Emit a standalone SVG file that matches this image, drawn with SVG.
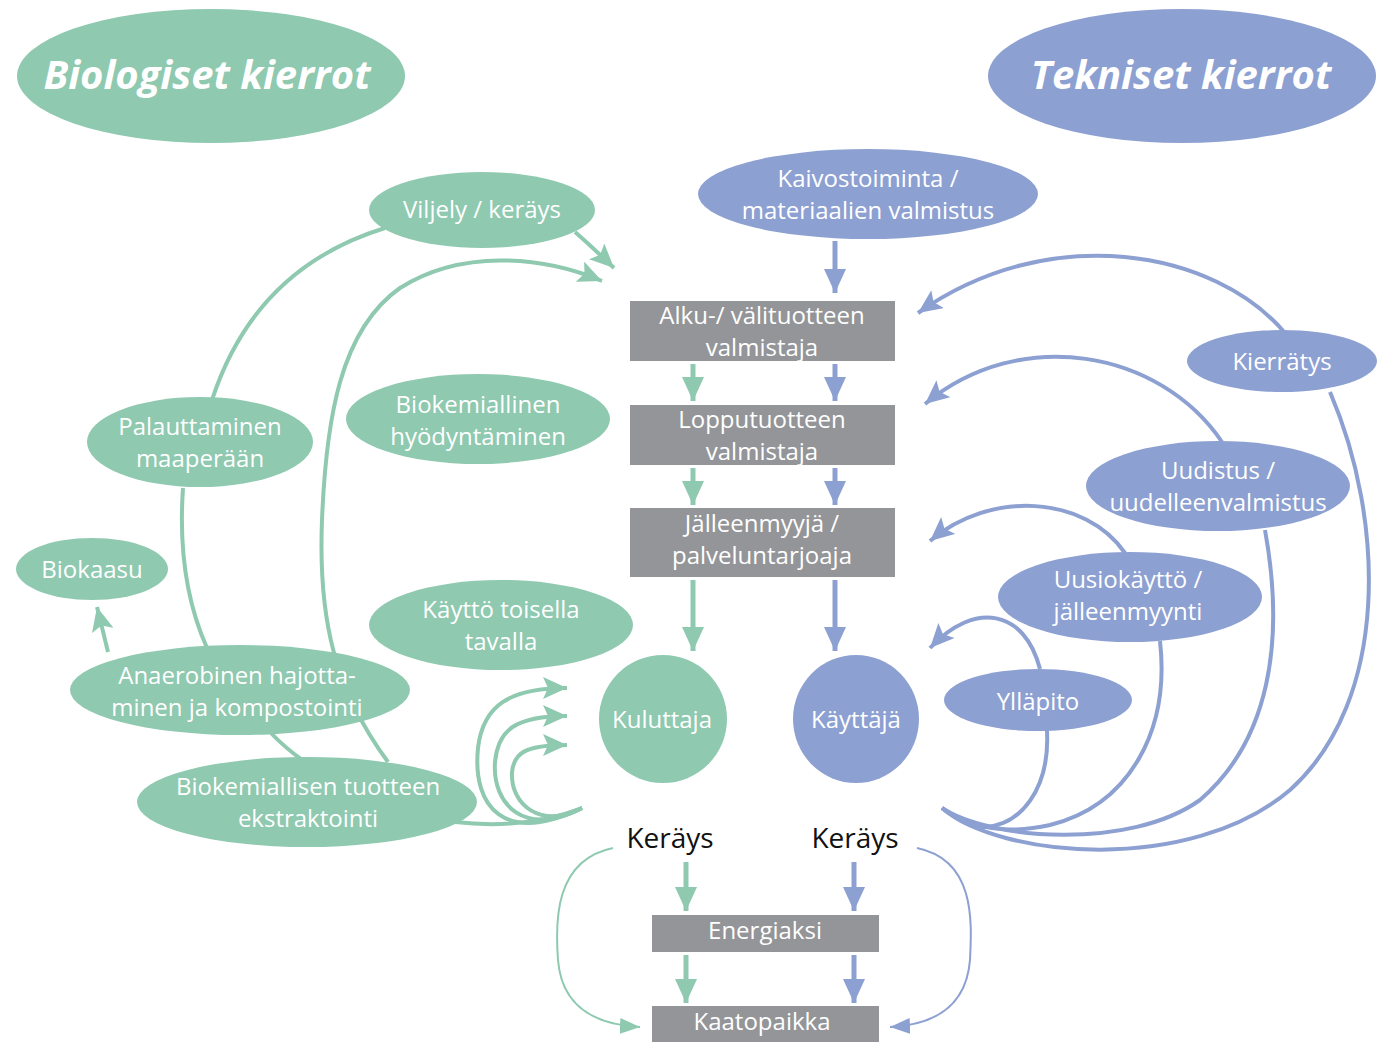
<svg xmlns="http://www.w3.org/2000/svg" width="1382" height="1042" viewBox="0 0 1382 1042">
<style>
.g{fill:#8ec9b0}
.b{fill:#8da0d2}
.box{fill:#939598}
.t{font-family:"Open Sans","Noto Sans",sans-serif;font-size:24px;fill:#fff;text-anchor:middle}
.k{font-family:"Open Sans","Noto Sans",sans-serif;font-size:28px;fill:#111;text-anchor:middle}
.title{font-family:"Open Sans","Noto Sans",sans-serif;font-size:40px;font-weight:bold;font-style:italic;fill:#fff;text-anchor:middle}
.cg{fill:none;stroke:#8ec9b0;stroke-width:4}
.cb{fill:none;stroke:#8da0d2;stroke-width:4}
.cgt{fill:none;stroke:#8ec9b0;stroke-width:2}
.cbt{fill:none;stroke:#8da0d2;stroke-width:2}
.sg{fill:none;stroke:#8ec9b0;stroke-width:5}
.sb{fill:none;stroke:#8da0d2;stroke-width:5}
</style>
<defs>
<marker id="ag" markerUnits="userSpaceOnUse" markerWidth="26" markerHeight="22" refX="24" refY="11" orient="auto"><path d="M0,0 L24,11 L0,22 L5,11 z" fill="#8ec9b0"/></marker>
<marker id="ab" markerUnits="userSpaceOnUse" markerWidth="26" markerHeight="22" refX="24" refY="11" orient="auto"><path d="M0,0 L24,11 L0,22 L5,11 z" fill="#8da0d2"/></marker>
<marker id="dg" markerUnits="userSpaceOnUse" markerWidth="26" markerHeight="22" refX="24" refY="11" orient="auto"><path d="M0,0 L24,11 L0,22 z" fill="#8ec9b0"/></marker>
<marker id="db" markerUnits="userSpaceOnUse" markerWidth="26" markerHeight="22" refX="24" refY="11" orient="auto"><path d="M0,0 L24,11 L0,22 z" fill="#8da0d2"/></marker>
<marker id="sg" markerUnits="userSpaceOnUse" markerWidth="22" markerHeight="16" refX="20" refY="8" orient="auto"><path d="M0,0 L20,8 L0,16 z" fill="#8ec9b0"/></marker>
<marker id="sb" markerUnits="userSpaceOnUse" markerWidth="22" markerHeight="16" refX="20" refY="8" orient="auto"><path d="M0,0 L20,8 L0,16 z" fill="#8da0d2"/></marker>
</defs>

<g id="connectors">
<path class="cg" d="M212,400 Q255,268 385,228"/>
<path class="cg" d="M575,232 Q590,245 614,268" marker-end="url(#ag)"/>
<path class="cg" d="M388,762 C335,690 318,620 322,520 C326,420 340,330 400,288 C460,250 540,255 602,281" marker-end="url(#ag)"/>
<path class="cg" d="M183,488 C178,560 190,610 207,648"/>
<path class="cg" d="M270,732 Q285,748 305,762"/>
<path class="cg" d="M108,652 L97,607" marker-end="url(#ag)"/>
<path class="cg" d="M455,822 Q525,830 582,808"/>
<path class="cg" d="M582,808 C505,845 472,808 478,748 C483,705 510,688 567,688" marker-end="url(#ag)"/>
<path class="cg" d="M582,808 C525,838 492,805 495,762 C498,730 515,716 567,716" marker-end="url(#ag)"/>
<path class="cg" d="M582,808 C542,830 510,805 512,772 C514,753 525,745 567,745" marker-end="url(#ag)"/>
<path class="cb" d="M1285,333 C1215,250 1050,220 918,313" marker-end="url(#ab)"/>
<path class="cb" d="M1222,442 C1160,350 1020,325 925,404" marker-end="url(#ab)"/>
<path class="cb" d="M1125,553 C1085,495 990,490 930,541" marker-end="url(#ab)"/>
<path class="cb" d="M1040,669 C1025,610 975,600 930,648" marker-end="url(#ab)"/>
<path class="cb" d="M1330,392 C1385,520 1390,700 1290,790 C1190,875 1000,858 942,808"/>
<path class="cb" d="M1265,530 C1285,640 1270,740 1200,800 C1130,850 990,840 942,808"/>
<path class="cb" d="M1160,641 C1170,730 1130,805 1050,825 C1000,836 965,825 942,808"/>
<path class="cb" d="M1047,731 C1050,790 1020,825 985,827 C970,828 955,818 942,808"/>
<path class="sb" d="M835,241 L835,293" marker-end="url(#db)"/>
<path class="sg" d="M693,364 L693,401" marker-end="url(#dg)"/>
<path class="sb" d="M835,364 L835,401" marker-end="url(#db)"/>
<path class="sg" d="M693,468 L693,505" marker-end="url(#dg)"/>
<path class="sb" d="M835,468 L835,505" marker-end="url(#db)"/>
<path class="sg" d="M693,580 L693,651" marker-end="url(#dg)"/>
<path class="sb" d="M835,580 L835,651" marker-end="url(#db)"/>
<path class="sg" d="M686,862 L686,911" marker-end="url(#dg)"/>
<path class="sb" d="M854,862 L854,911" marker-end="url(#db)"/>
<path class="sg" d="M686,955 L686,1003" marker-end="url(#dg)"/>
<path class="sb" d="M854,955 L854,1003" marker-end="url(#db)"/>
<path class="cgt" d="M613,848 C555,860 555,920 558,960 C562,1010 600,1025 640,1027" marker-end="url(#sg)"/>
<path class="cbt" d="M917,848 C975,860 972,920 970,960 C966,1010 930,1025 890,1027" marker-end="url(#sb)"/>
</g>

<g id="title-bio"><ellipse class="g" cx="211" cy="76" rx="194" ry="67"/><text class="title" x="207" y="89">Biologiset kierrot</text></g>
<g id="title-tek"><ellipse class="b" cx="1182" cy="76" rx="194" ry="67"/><text class="title" x="1181" y="89">Tekniset kierrot</text></g>

<g id="kaivos"><ellipse class="b" cx="868" cy="194" rx="170" ry="45"/><text class="t" x="868" y="187">Kaivostoiminta /</text><text class="t" x="868" y="219">materiaalien valmistus</text></g>

<g id="alku"><rect class="box" x="630" y="301" width="265" height="60"/><text class="t" x="762" y="324">Alku-/ välituotteen</text><text class="t" x="762" y="356">valmistaja</text></g>
<g id="loppu"><rect class="box" x="630" y="405" width="265" height="60"/><text class="t" x="762" y="428">Lopputuotteen</text><text class="t" x="762" y="460">valmistaja</text></g>
<g id="jalleen"><rect class="box" x="630" y="508" width="265" height="69"/><text class="t" x="762" y="532">Jälleenmyyjä /</text><text class="t" x="762" y="564">palveluntarjoaja</text></g>

<g id="kuluttaja"><ellipse class="g" cx="663" cy="719" rx="64" ry="64"/><text class="t" x="662" y="728">Kuluttaja</text></g>
<g id="kayttaja"><ellipse class="b" cx="856" cy="719" rx="63" ry="64"/><text class="t" x="856" y="728">Käyttäjä</text></g>

<g id="kerays-g"><text class="k" x="670" y="848">Keräys</text></g>
<g id="kerays-b"><text class="k" x="855" y="848">Keräys</text></g>

<g id="energiaksi"><rect class="box" x="652" y="915" width="227" height="37"/><text class="t" x="765" y="939">Energiaksi</text></g>
<g id="kaatopaikka"><rect class="box" x="652" y="1006" width="227" height="36"/><text class="t" x="762" y="1030">Kaatopaikka</text></g>

<g id="viljely"><ellipse class="g" cx="482" cy="210" rx="113" ry="38"/><text class="t" x="482" y="218">Viljely / keräys</text></g>
<g id="palauttaminen"><ellipse class="g" cx="200" cy="442" rx="113" ry="45"/><text class="t" x="200" y="435">Palauttaminen</text><text class="t" x="200" y="467">maaperään</text></g>
<g id="biokem-hyod"><ellipse class="g" cx="478" cy="419" rx="132" ry="45"/><text class="t" x="478" y="413">Biokemiallinen</text><text class="t" x="478" y="445">hyödyntäminen</text></g>
<g id="biokaasu"><ellipse class="g" cx="92" cy="569" rx="76" ry="31"/><text class="t" x="92" y="578">Biokaasu</text></g>
<g id="kaytto-toisella"><ellipse class="g" cx="501" cy="625" rx="132" ry="45"/><text class="t" x="501" y="618">Käyttö toisella</text><text class="t" x="501" y="650">tavalla</text></g>
<g id="anaerobinen"><ellipse class="g" cx="240" cy="690" rx="170" ry="45"/><text class="t" x="237" y="684">Anaerobinen hajotta-</text><text class="t" x="237" y="716">minen ja kompostointi</text></g>
<g id="ekstraktointi"><ellipse class="g" cx="307" cy="802" rx="170" ry="45"/><text class="t" x="308" y="795">Biokemiallisen tuotteen</text><text class="t" x="308" y="827">ekstraktointi</text></g>

<g id="kierratys"><ellipse class="b" cx="1282" cy="361" rx="95" ry="31"/><text class="t" x="1282" y="370">Kierrätys</text></g>
<g id="uudistus"><ellipse class="b" cx="1218" cy="486" rx="132" ry="45"/><text class="t" x="1218" y="479">Uudistus /</text><text class="t" x="1218" y="511">uudelleenvalmistus</text></g>
<g id="uusiokaytto"><ellipse class="b" cx="1130" cy="597" rx="132" ry="45"/><text class="t" x="1128" y="588">Uusiokäyttö /</text><text class="t" x="1128" y="620">jälleenmyynti</text></g>
<g id="yllapito"><ellipse class="b" cx="1038" cy="700" rx="94" ry="31"/><text class="t" x="1038" y="710">Ylläpito</text></g>
</svg>
